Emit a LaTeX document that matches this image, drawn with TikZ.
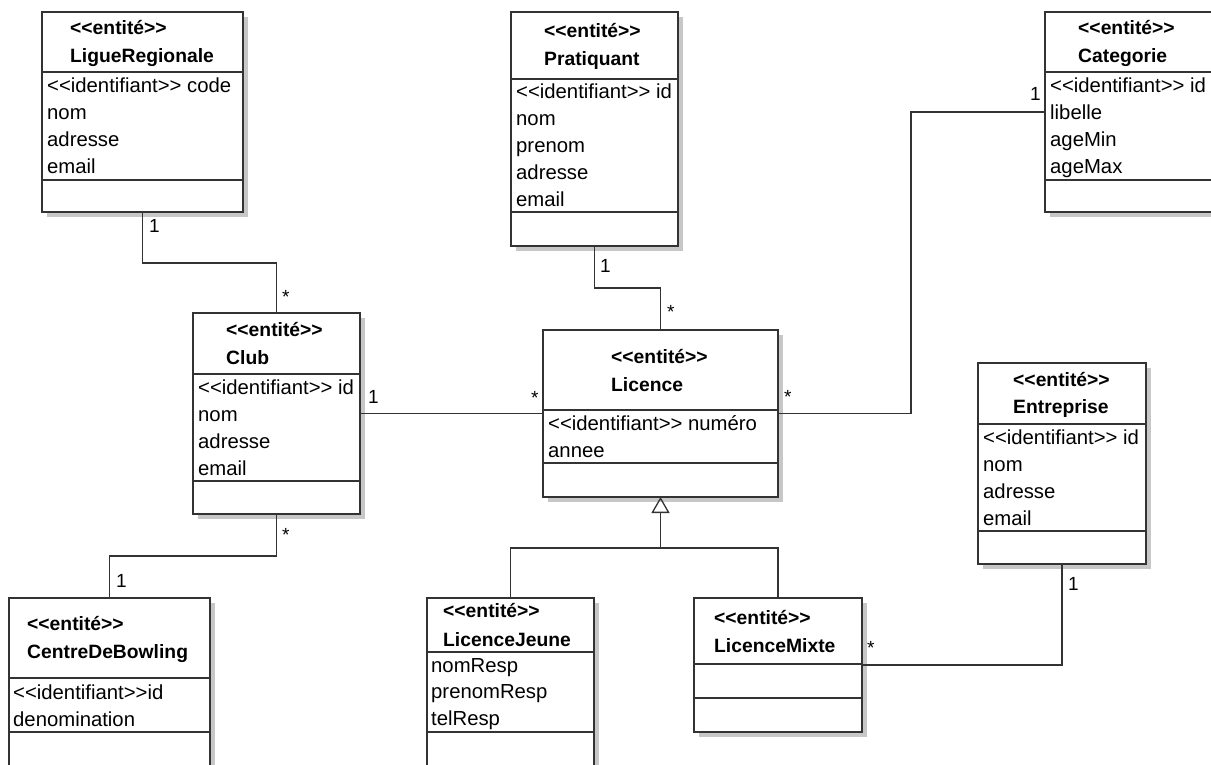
\documentclass[tikz,border=0pt]{standalone}
\usepackage{fontspec}
\setmainfont{Liberation Sans}
\usetikzlibrary{arrows.meta,shadows,calc}

\newcommand{\stereo}[1]{<\kern0pt<#1>\kern0pt>}

\tikzset{
  classe/.style={draw=black!80, line width=1.5pt, fill=white, anchor=north west,
    inner sep=0pt, outer sep=0pt,
    drop shadow={shadow xshift=5pt, shadow yshift=-5pt, fill=black!22, opacity=1}},
  trait/.style={draw=black!80, line width=1.5pt},
  titre/.style={anchor=base west, inner sep=0pt, font=\fontsize{19.3}{23}\selectfont\bfseries},
  attr/.style={anchor=base west, inner sep=0pt, font=\fontsize{20.3}{24}\selectfont},
  mult/.style={anchor=base west, inner sep=0pt, font=\fontsize{19}{23}\selectfont},
  herite/.style={-{Triangle[open, length=16pt, width=18pt, line width=1.3pt]}}
}

\begin{document}
\begin{tikzpicture}[x=1pt,y=-1pt]
\useasboundingbox (0,0) rectangle (1211,765);

% LigueRegionale
\draw (42,12) node (lig) [classe, minimum width=201pt, minimum height=200pt] {};
\draw[trait] (lig.west |- 0,72) -- (lig.east |- 0,72);
\draw[trait] (lig.west |- 0,180) -- (lig.east |- 0,180);
\draw (70,35) node (lig1) [titre] {\stereo{entité}};
\draw (70,63) node (lig2) [titre] {LigueRegionale};
\draw (47,93) node (lig3) [attr] {\stereo{identifiant} code};
\draw (47,120) node (lig4) [attr] {nom};
\draw (47,147) node (lig5) [attr] {adresse};
\draw (47,174) node (lig6) [attr] {email};

% Pratiquant
\draw (511,12) node (pra) [classe, minimum width=167pt, minimum height=234pt] {};
\draw[trait] (pra.west |- 0,79) -- (pra.east |- 0,79);
\draw[trait] (pra.west |- 0,212) -- (pra.east |- 0,212);
\draw (544,38) node (pra1) [titre] {\stereo{entité}};
\draw (544,66) node (pra2) [titre] {Pratiquant};
\draw (516,99) node (pra3) [attr] {\stereo{identifiant} id};
\draw (516,126) node (pra4) [attr] {nom};
\draw (516,153) node (pra5) [attr] {prenom};
\draw (516,180) node (pra6) [attr] {adresse};
\draw (516,207) node (pra7) [attr] {email};

% Categorie
\draw (1045,12) node (cat) [classe, minimum width=180pt, minimum height=200pt] {};
\draw[trait] (cat.west |- 0,72) -- (cat.east |- 0,72);
\draw[trait] (cat.west |- 0,180) -- (cat.east |- 0,180);
\draw (1078,35) node (cat1) [titre] {\stereo{entité}};
\draw (1078,63) node (cat2) [titre] {Categorie};
\draw (1050,93) node (cat3) [attr] {\stereo{identifiant} id};
\draw (1050,120) node (cat4) [attr] {libelle};
\draw (1050,147) node (cat5) [attr] {ageMin};
\draw (1050,174) node (cat6) [attr] {ageMax};

% Club
\draw (193,313) node (clu) [classe, minimum width=167pt, minimum height=201pt] {};
\draw[trait] (clu.west |- 0,374) -- (clu.east |- 0,374);
\draw[trait] (clu.west |- 0,481) -- (clu.east |- 0,481);
\draw (226,336) node (clu1) [titre] {\stereo{entité}};
\draw (226,364) node (clu2) [titre] {Club};
\draw (198,394) node (clu3) [attr] {\stereo{identifiant} id};
\draw (198,421) node (clu4) [attr] {nom};
\draw (198,448) node (clu5) [attr] {adresse};
\draw (198,475) node (clu6) [attr] {email};

% Licence
\draw (543,330) node (lic) [classe, minimum width=235pt, minimum height=167pt] {};
\draw[trait] (lic.west |- 0,410) -- (lic.east |- 0,410);
\draw[trait] (lic.west |- 0,463) -- (lic.east |- 0,463);
\draw (611,363) node (lic1) [titre] {\stereo{entité}};
\draw (611,391) node (lic2) [titre] {Licence};
\draw (548,430) node (lic3) [attr] {\stereo{identifiant} numéro};
\draw (548,457) node (lic4) [attr] {annee};

% Entreprise
\draw (978,363) node (ent) [classe, minimum width=168pt, minimum height=201pt] {};
\draw[trait] (ent.west |- 0,424) -- (ent.east |- 0,424);
\draw[trait] (ent.west |- 0,531) -- (ent.east |- 0,531);
\draw (1013,386) node (ent1) [titre] {\stereo{entité}};
\draw (1013,413) node (ent2) [titre] {Entreprise};
\draw (983,444) node (ent3) [attr] {\stereo{identifiant} id};
\draw (983,471) node (ent4) [attr] {nom};
\draw (983,498) node (ent5) [attr] {adresse};
\draw (983,525) node (ent6) [attr] {email};

% CentreDeBowling
\draw (9,598) node (cen) [classe, minimum width=201pt, minimum height=200pt] {};
\draw[trait] (cen.west |- 0,678) -- (cen.east |- 0,678);
\draw[trait] (cen.west |- 0,732) -- (cen.east |- 0,732);
\draw (27,630) node (cen1) [titre] {\stereo{entité}};
\draw (27,658) node (cen2) [titre] {CentreDeBowling};
\draw (13,699) node (cen3) [attr] {\stereo{identifiant}id};
\draw (13,726) node (cen4) [attr] {denomination};

% LicenceJeune
\draw (427,598) node (jeu) [classe, minimum width=167pt, minimum height=200pt] {};
\draw[trait] (jeu.west |- 0,652) -- (jeu.east |- 0,652);
\draw[trait] (jeu.west |- 0,732) -- (jeu.east |- 0,732);
\draw (443,617) node (jeu1) [titre] {\stereo{entité}};
\draw (443,646) node (jeu2) [titre] {LicenceJeune};
\draw (431,672) node (jeu3) [attr] {nomResp};
\draw (431,698) node (jeu4) [attr] {prenomResp};
\draw (431,725) node (jeu5) [attr] {telResp};

% LicenceMixte
\draw (694,598) node (mix) [classe, minimum width=168pt, minimum height=134pt] {};
\draw[trait] (mix.west |- 0,664) -- (mix.east |- 0,664);
\draw[trait] (mix.west |- 0,698) -- (mix.east |- 0,698);
\draw (714,624) node (mix1) [titre] {\stereo{entité}};
\draw (714,652) node (mix2) [titre] {LicenceMixte};

% associations
\draw[trait] (lig.south) -- ++(0,51) -| (clu.north);
\draw (149,233) node (m1) [mult] {1};
\draw (282,303) node (m2) [mult] {*};

\draw[trait] (pra.south) -- ++(0,42) -| (lic.north);
\draw (600,272) node (m3) [mult] {1};
\draw (667,318) node (m4) [mult] {*};

\draw[trait] (clu.east) -- (lic.west);
\draw (368,403) node (m5) [mult] {1};
\draw (531,404) node (m6) [mult] {*};

\draw[trait] (lic.east) -- ++(133,0) |- (cat.west);
\draw (784,403) node (m7) [mult] {*};
\draw (1030,101) node (m8) [mult] {1};

\draw[trait] (clu.south) -- ++(0,42) -| (cen.north);
\draw (282,541) node (m9) [mult] {*};
\draw (116,587) node (m10) [mult] {1};

\draw[trait] (ent.south) |- (mix.east);
\draw (1068,590) node (m11) [mult] {1};
\draw (867,654) node (m12) [mult] {*};

% heritage
\coordinate (gen) at ($(lic.south)+(0,51)$);
\draw[trait] (jeu.north) |- (gen) -| (mix.north);
\draw[trait, herite] (gen) -- (lic.south);

\end{tikzpicture}
\end{document}
